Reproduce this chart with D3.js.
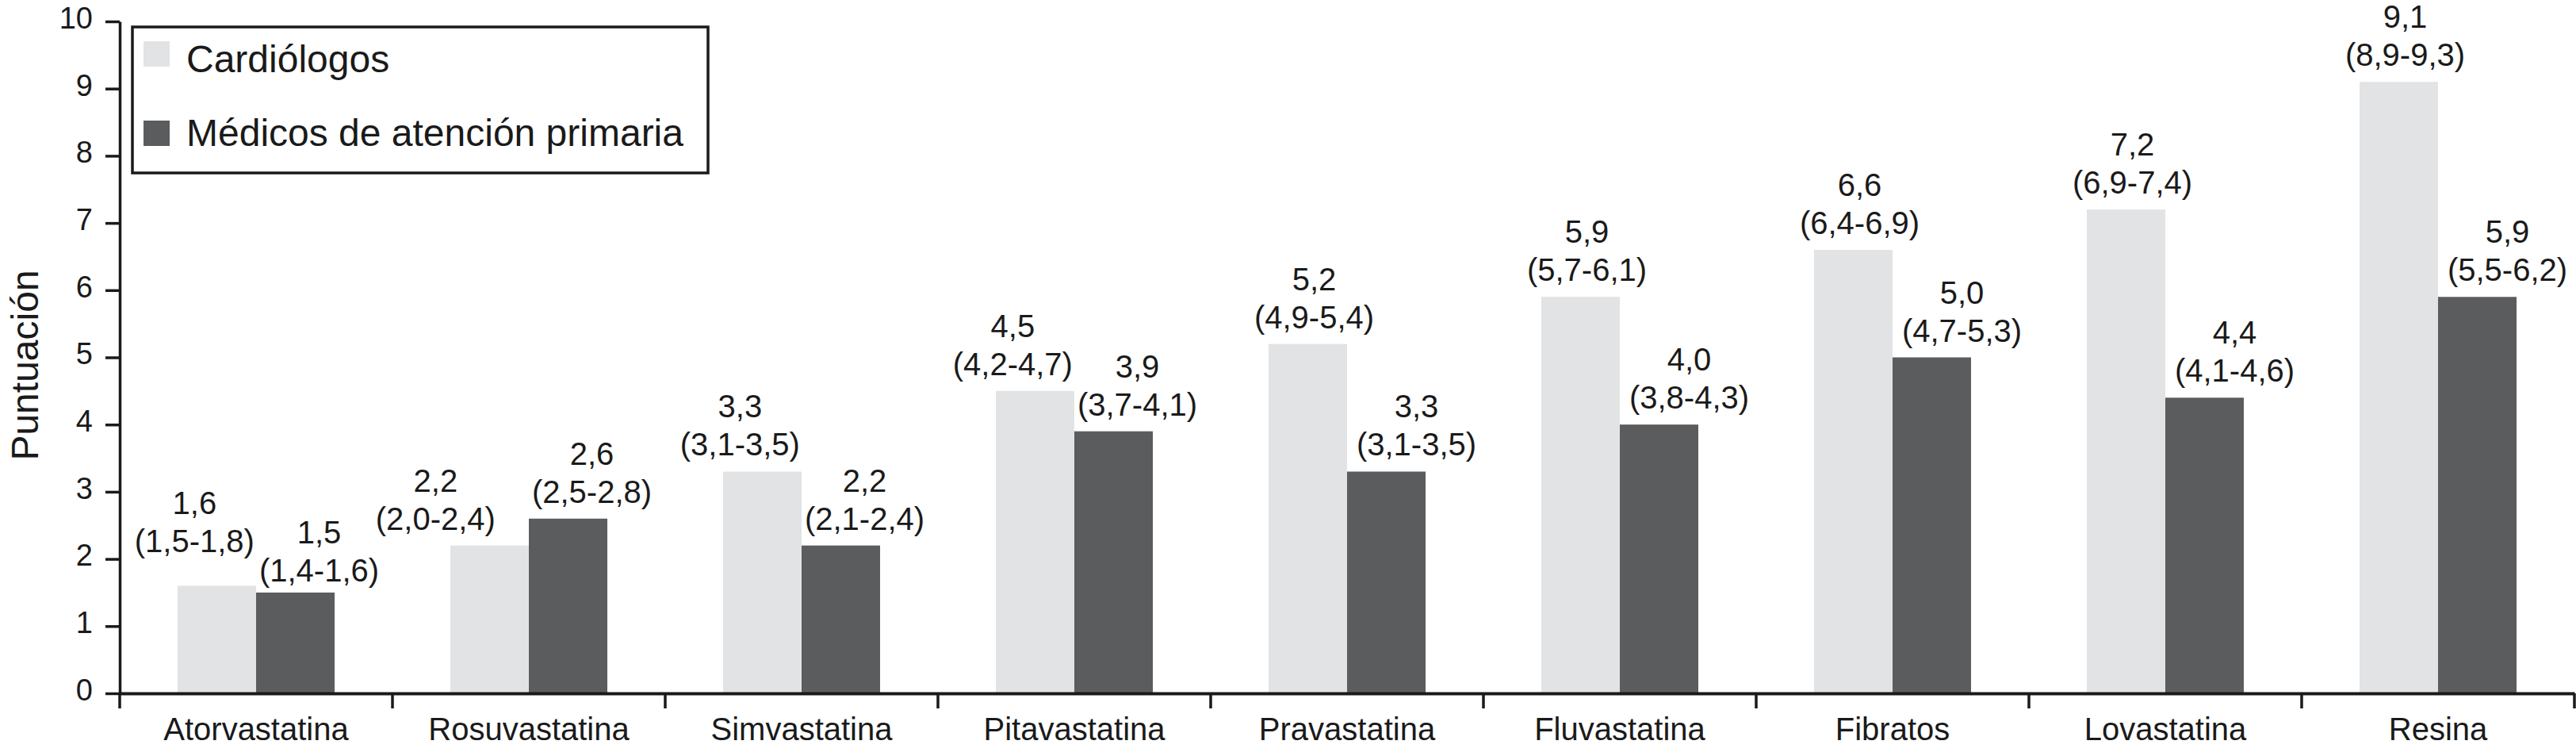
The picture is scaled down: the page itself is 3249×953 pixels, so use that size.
<!DOCTYPE html>
<html>
<head>
<meta charset="utf-8">
<script src="https://cdn.jsdelivr.net/npm/d3@7"></script>
<style>
    body { margin: 0; background: #fff; }
    svg { display: block; font-family: 'Liberation Sans', Arial, sans-serif; }
</style>
</head>
<body>
<svg class="bar-chart"></svg>
<script>
'use strict';

var categories = ['Atorvastatina', 'Rosuvastatina', 'Simvastatina', 'Pitavastatina', 'Pravastatina',
    'Fluvastatina', 'Fibratos', 'Lovastatina', 'Resina'];
var seriesNames = ['Cardiólogos', 'Médicos de atención primaria'];

var cardio = [1.6, 2.2, 3.3, 4.5, 5.2, 5.9, 6.6, 7.2, 9.1];
var cardioLow = [1.5, 2.0, 3.1, 4.2, 4.9, 5.7, 6.4, 6.9, 8.9];
var cardioHigh = [1.8, 2.4, 3.5, 4.7, 5.4, 6.1, 6.9, 7.4, 9.3];

var primaria = [1.5, 2.6, 2.2, 3.9, 3.3, 4.0, 5.0, 4.4, 5.9];
var primariaLow = [1.4, 2.5, 2.1, 3.7, 3.1, 3.8, 4.7, 4.1, 5.5];
var primariaHigh = [1.6, 2.8, 2.4, 4.1, 3.5, 4.3, 5.3, 4.6, 6.2];

var yTicks = [0, 1, 2, 3, 4, 5, 6, 7, 8, 9, 10];

var drawChart = function() {
    var svgWidth = 3249,
        svgHeight = 953,
        left = 151, right = 3247, top = 27, bottom = 874,
        colors = ['#e1e3e5', '#5b5c5e'],
        ink = '#1a1a1a';

    var svg = d3.select('svg.bar-chart')
        .attr('width', svgWidth)
        .attr('height', svgHeight);

    var fmt = function(v) { return d3.format('.1f')(v).replace('.', ','); };

    var rows = categories.map(function(c, i) {
        return {
            cat: c,
            vals: [
                { s: 0, v: cardio[i], lo: cardioLow[i], hi: cardioHigh[i] },
                { s: 1, v: primaria[i], lo: primariaLow[i], hi: primariaHigh[i] }
            ]
        };
    });

    var x = d3.scaleBand().domain(categories).range([left, right]).padding(0);
    var xs = d3.scaleBand().domain([0, 1]).range([0, x.bandwidth()])
        .paddingInner(0).paddingOuter(0.737);
    var y = d3.scaleLinear().domain([0, 10]).range([bottom, top]);

    // bars
    var groups = svg.append('g').selectAll('g').data(rows).enter().append('g')
        .attr('transform', function(d) { return 'translate(' + x(d.cat) + ',0)'; });

    groups.selectAll('rect').data(function(d) { return d.vals; }).enter().append('rect')
        .attr('x', function(d) { return xs(d.s); })
        .attr('width', xs.bandwidth())
        .attr('y', function(d) { return y(d.v); })
        .attr('height', function(d) { return y(0) - y(d.v); })
        .attr('fill', function(d) { return colors[d.s]; });

    // value labels: two lines above each bar
    var labels = groups.selectAll('g.lbl').data(function(d) { return d.vals; }).enter().append('g')
        .attr('class', 'lbl')
        .attr('font-size', 40)
        .attr('fill', ink)
        .attr('text-anchor', 'middle');

    labels.append('text').attr('y', -48).text(function(d) { return fmt(d.v); });
    labels.append('text').attr('y', 0).text(function(d) { return '(' + fmt(d.lo) + '-' + fmt(d.hi) + ')'; });

    var baseShift = [8, 38];
    labels.each(function(d) {
        d.w = d3.select(this).select('text:last-child').node().getComputedTextLength();
        d.cx = xs(d.s) + xs.bandwidth() / 2 + baseShift[d.s];
        d.by = y(d.v) - 20;
    });
    // when the two labels of a group sit at about the same height,
    // keep the dark one near its bar and slide the light one to its left
    groups.each(function(g) {
        var a = g.vals[0], b = g.vals[1];
        if (Math.abs(a.by - b.by) < 100) {
            b.cx = xs(1) + xs.bandwidth() / 2 + 30;
            a.cx = Math.min(a.cx, b.cx - (a.w + b.w) / 2 - 6);
            if (b.by < a.by) a.cx -= 40;
            if (Math.abs(a.by - b.by) < 20) { a.by -= 22; b.by += 6; }
        }
    });
    labels.attr('transform', function(d) { return 'translate(' + d.cx + ',' + d.by + ')'; });

    // y axis
    var yAxis = d3.axisLeft(y).tickValues(yTicks).tickSize(18).tickSizeOuter(0).tickPadding(16);
    var gy = svg.append('g').attr('transform', 'translate(' + left + ',0)').call(yAxis);
    gy.select('.domain').attr('stroke', ink).attr('stroke-width', 3.5);
    gy.selectAll('.tick line').attr('stroke', ink).attr('stroke-width', 3.5);
    gy.selectAll('.tick text').attr('font-size', 38).attr('fill', ink)
        .attr('font-family', null).attr('dy', '0.22em');

    // x axis: labels at centres, ticks at the category edges
    var xAxis = d3.axisBottom(x).tickSize(0).tickSizeOuter(0);
    var gx = svg.append('g').attr('transform', 'translate(0,' + bottom + ')').call(xAxis);
    gx.select('.domain').attr('stroke', ink).attr('stroke-width', 4);
    gx.selectAll('.tick text').attr('font-size', 40).attr('fill', ink)
        .attr('font-family', null).attr('y', 59).attr('dy', 0);

    var edges = categories.map(function(c) { return x(c); }).concat([x.range()[1]]);
    gx.selectAll('line.edge').data(edges).enter().append('line')
        .attr('class', 'edge')
        .attr('x1', function(d) { return d; })
        .attr('x2', function(d) { return d; })
        .attr('y1', 0).attr('y2', 19)
        .attr('stroke', ink).attr('stroke-width', 3.5);

    // axis title
    svg.append('text')
        .attr('transform', 'translate(48,' + ((top + bottom) / 2 + 10) + ') rotate(-90)')
        .attr('text-anchor', 'middle')
        .attr('font-size', 48)
        .attr('fill', ink)
        .text('Puntuación');

    // legend
    var legend = svg.append('g');
    legend.append('rect')
        .attr('x', 167).attr('y', 34).attr('width', 726).attr('height', 184)
        .attr('fill', '#fff').attr('stroke', ink).attr('stroke-width', 3.5);
    var items = legend.selectAll('g.item').data(seriesNames).enter().append('g')
        .attr('class', 'item')
        .attr('transform', function(d, i) { return 'translate(181,' + (52 + i * 100) + ')'; });
    items.append('rect').attr('width', 33).attr('height', 32)
        .attr('fill', function(d, i) { return colors[i]; });
    items.append('text').attr('x', 54).attr('y', function(d, i) { return i ? 32 : 39; })
        .attr('font-size', 48).attr('fill', ink)
        .text(function(d) { return d; });
};

drawChart();
</script>
</body>
</html>
